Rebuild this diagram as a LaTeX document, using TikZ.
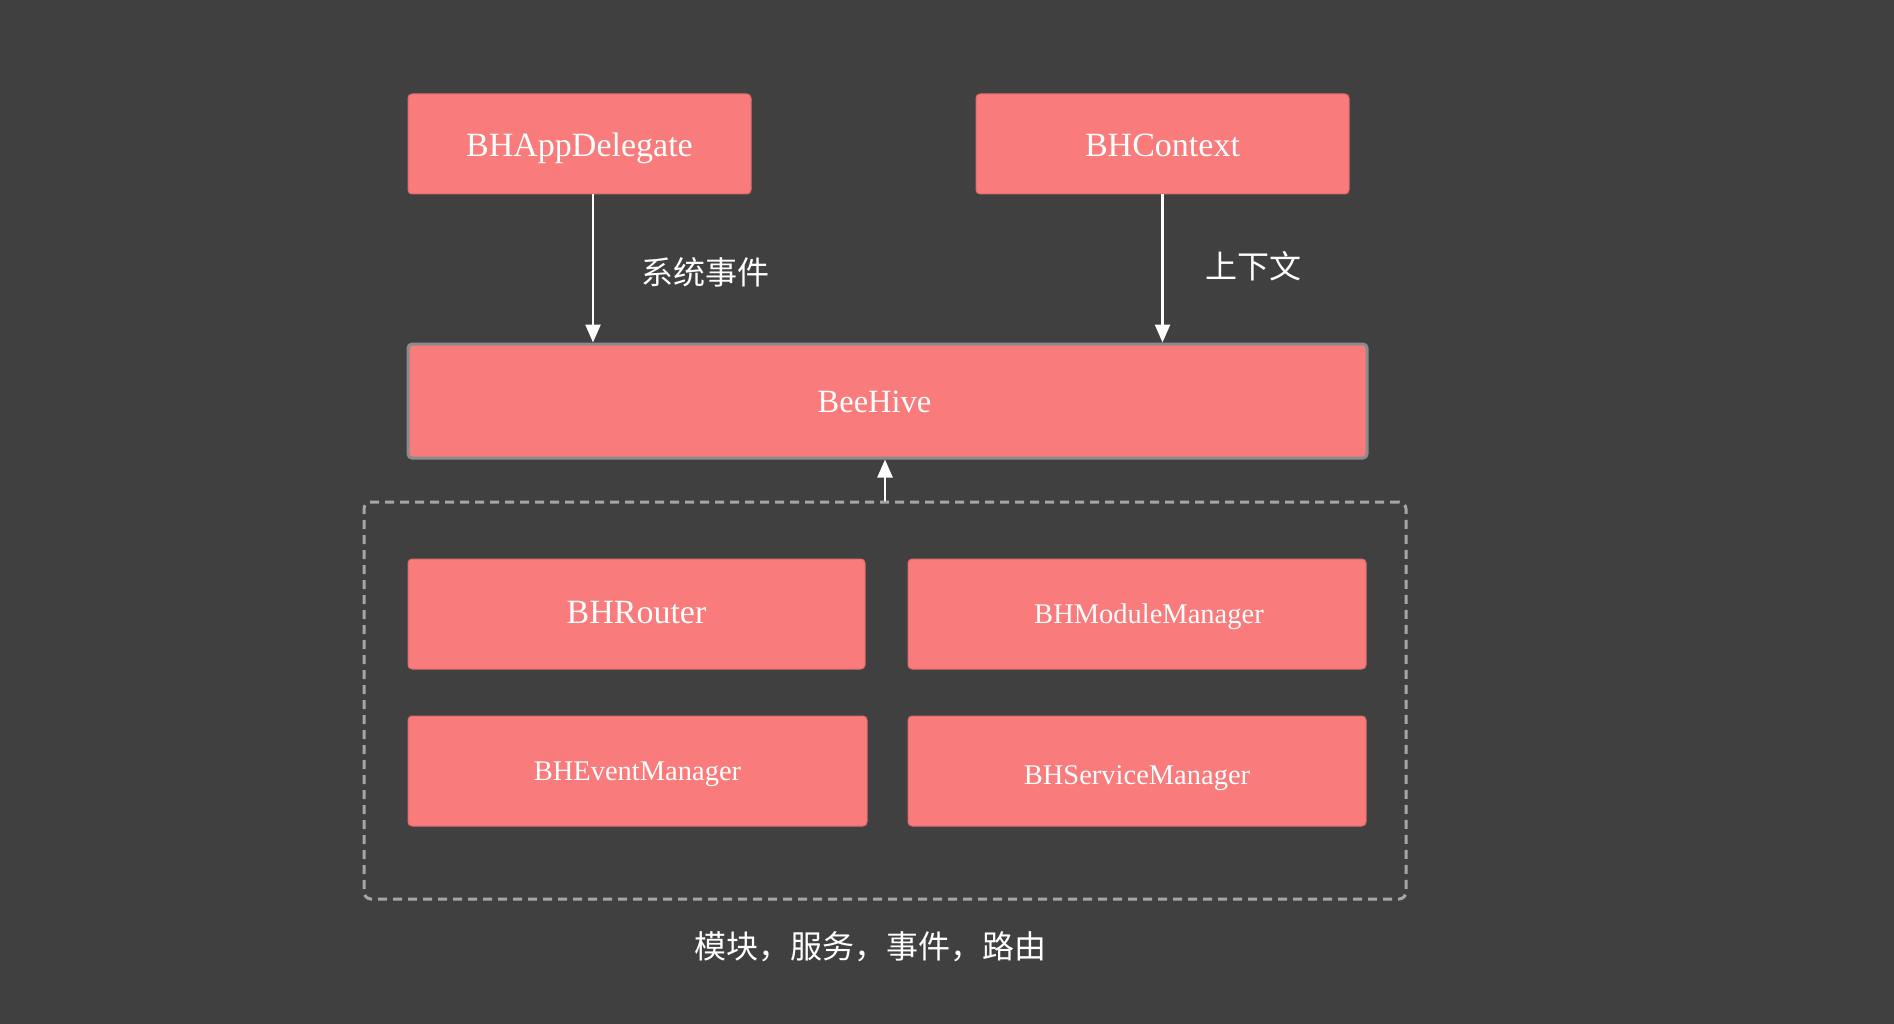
\documentclass[tikz,border=0pt]{standalone}
\usepackage{fontspec}
\setmainfont{Liberation Serif}
\newfontfamily\cjk{Noto Sans CJK SC}
\usetikzlibrary{arrows.meta}
\definecolor{bgcol}{HTML}{404040}
\definecolor{fillcol}{HTML}{F97B7B}
\definecolor{rimcol}{HTML}{8C8C8C}
\definecolor{dashcol}{HTML}{A6A6A6}

\begin{document}
\begin{tikzpicture}[x=1pt,y=-1pt,line join=bevel,
  bhbox/.style={draw=fillcol!88!black,line width=1pt,fill=fillcol,rounded corners=4pt,
    inner sep=0pt,text=white,text height=18pt,text depth=0pt,
    font=\fontsize{34}{40}\selectfont},
  small/.style={font=\fontsize{28.5}{34}\selectfont},
  flow/.style={draw=white,line width=2.5pt,-{Triangle[length=18pt,width=15pt]}},
  tag/.style={text=white,font=\cjk\fontsize{32}{36}\selectfont}]
%%
\begin{scope}
\fill[bgcol] (0,0) rectangle (1894,1024);
\useasboundingbox (0,0) rectangle (1894,1024);
\end{scope}
% Node: group
\node[draw=dashcol,line width=3pt,dash pattern=on 9pt off 6pt,rounded corners=7pt,
  minimum width=1042pt,minimum height=397pt] (group) at (885,700.5) {};
% Node: appdel
\node[bhbox,text height=25.4pt,minimum width=343pt,minimum height=100pt] (appdel) at (579.5,144) {BHAppDelegate};
% Node: ctx
\node[bhbox,text height=25.6pt,minimum width=373pt,minimum height=100pt] (ctx) at (1162.5,144) {BHContext};
% Node: hive
\node[bhbox,draw=rimcol,line width=3pt,text height=23pt,font=\fontsize{32.5}{38}\selectfont,
  minimum width=959pt,minimum height=114pt] (hive) at (887.5,401) {BeeHive\kern26pt};
% Node: router
\node[bhbox,minimum width=457pt,minimum height=110pt] (router) at (636.5,614) {BHRouter};
% Node: module
\node[bhbox,small,minimum width=458pt,minimum height=110pt] (module) at (1137,614) {\kern24pt BHModuleManager};
% Node: event
\node[bhbox,small,minimum width=459pt,minimum height=110pt] (event) at (637.5,771) {BHEventManager};
% Node: service
\node[bhbox,small,text height=26.6pt,minimum width=458pt,minimum height=110pt] (service) at (1137,771) {BHServiceManager};
% Edge: appdel -> hive
\draw[flow] ([xshift=13.5pt]appdel.south) -- ([xshift=13.5pt]appdel.south |- hive.north);
% Edge: ctx -> hive
\draw[flow] (ctx.south) -- (ctx.south |- hive.north);
% Edge: group -> hive
\draw[flow] (group.north) -- (group.north |- hive.south);
% Labels
\node[tag] (sys) at (705,272) {系统事件};
\node[tag] (ctxtag) at (1253,266) {上下文};
\node[tag] (grouptag) at (870,947) {模块，服务，事件，路由};
%
\end{tikzpicture}
\end{document}
